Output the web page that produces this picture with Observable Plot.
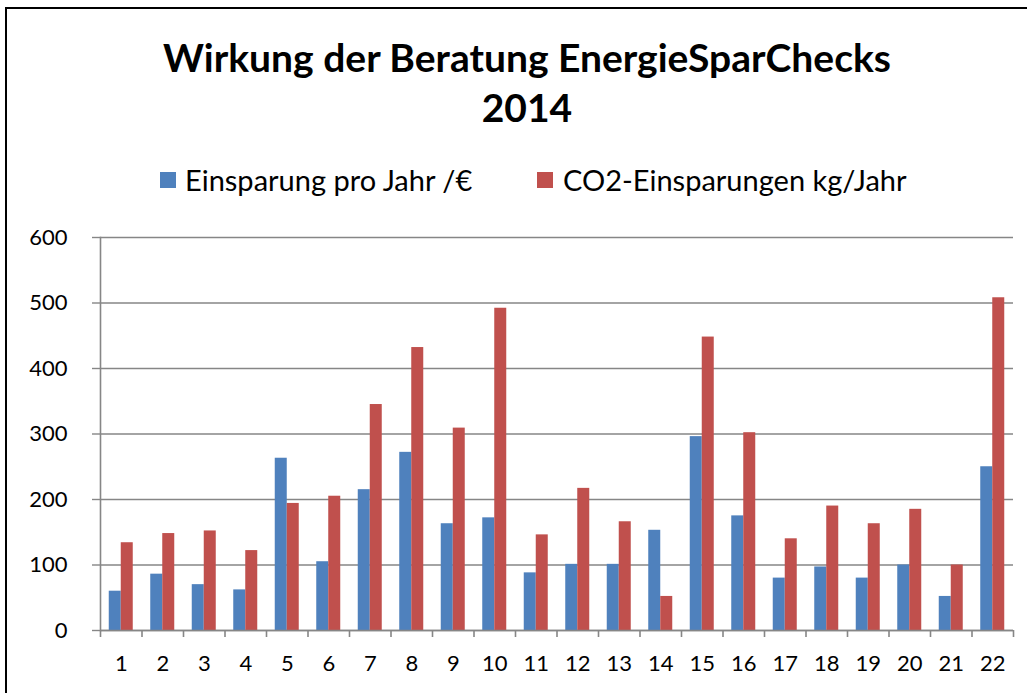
<!DOCTYPE html>
<html>
<head>
<meta charset="utf-8">
<script src="https://cdn.jsdelivr.net/npm/d3@7"></script>
<script src="https://cdn.jsdelivr.net/npm/@observablehq/plot@0.6"></script>
<style>
  html, body { margin: 0; padding: 0; background: #fff; width: 1027px; height: 693px; overflow: hidden; }
  body { position: relative; font-family: Lato, "Open Sans", sans-serif; }
  #frame { position: absolute; left: 5px; top: 7px; width: 1100px; height: 800px; border: 2px solid #000; box-sizing: border-box; }
  #title { position: absolute; left: 0; width: 1054px; top: 32px; text-align: center; font-weight: bold; font-size: 39px; line-height: 50px; color: #000; }
  .sw { position: absolute; width: 16px; height: 16px; top: 172px; }
  .lt { position: absolute; top: 162px; font-size: 29px; line-height: 36px; color: #000; white-space: nowrap; }
  #chart { position: absolute; left: 0; top: 220px; }
</style>
</head>
<body>
<div id="frame"></div>
<div id="title">Wirkung der Beratung EnergieSparChecks<br>2014</div>
<div class="sw" style="left:160px;background:#4F81BD"></div>
<div class="lt" style="left:185px">Einsparung pro Jahr /€</div>
<div class="sw" style="left:537px;background:#C0504D"></div>
<div class="lt" style="left:563px">CO2-Einsparungen kg/Jahr</div>
<div id="chart"></div>
<script>
const categories = ["1","2","3","4","5","6","7","8","9","10","11","12","13","14","15","16","17","18","19","20","21","22"];
const einsparung = [60, 86, 70, 62, 263, 105, 215, 272, 163, 172, 88, 101, 101, 153, 296, 175, 80, 97, 80, 100, 52, 250];
const co2 = [134, 148, 152, 122, 194, 205, 345, 432, 309, 492, 146, 217, 166, 52, 448, 302, 140, 190, 163, 185, 100, 508];
const yTicks = [0, 100, 200, 300, 400, 500, 600];

const data = categories.map((c, i) => ({cat: c, blue: einsparung[i], red: co2[i]}));

const width = 1027, marginLeft = 100, marginRight = 14;
const bw = (width - marginLeft - marginRight) / categories.length;
const barW = 12;
const grid = "#868686";

const chart = Plot.plot({
  width,
  height: 465,
  marginTop: 17,
  marginBottom: 55,
  marginLeft,
  marginRight,
  style: {fontFamily: "Lato, 'Open Sans', sans-serif", fontSize: "22px", color: "#000", background: "transparent"},
  x: {domain: categories, padding: 0, round: false, label: null},
  y: {domain: [0, 600], label: null},
  marks: [
    Plot.gridY(yTicks, {stroke: grid, strokeOpacity: 1, strokeWidth: 1.4}),
    Plot.barY(data, {x: "cat", y: "blue", fill: "#4F81BD", insetLeft: bw / 2 - barW, insetRight: bw / 2}),
    Plot.barY(data, {x: "cat", y: "red", fill: "#C0504D", insetLeft: bw / 2, insetRight: bw / 2 - barW}),
    Plot.ruleY([0], {stroke: grid, strokeWidth: 1.6}),
    Plot.frame({anchor: "left", stroke: grid, strokeWidth: 1.6}),
    Plot.ruleX(categories, {x: d => d, y1: 0, y2: 0, dx: -bw / 2, insetBottom: -7, stroke: grid, strokeWidth: 1.6}),
    Plot.ruleX(categories.slice(-1), {x: d => d, y1: 0, y2: 0, dx: bw / 2, insetBottom: -7, stroke: grid, strokeWidth: 1.6}),
    Plot.axisY(yTicks, {tickSize: 8, tickPadding: 25, stroke: grid, strokeWidth: 1.4, fill: "#000", fontSize: 22, label: null}),
    Plot.axisX({tickSize: 0, tickPadding: 25, fill: "#000", fontSize: 22, label: null})
  ]
});
document.getElementById("chart").appendChild(chart);
</script>
</body>
</html>
